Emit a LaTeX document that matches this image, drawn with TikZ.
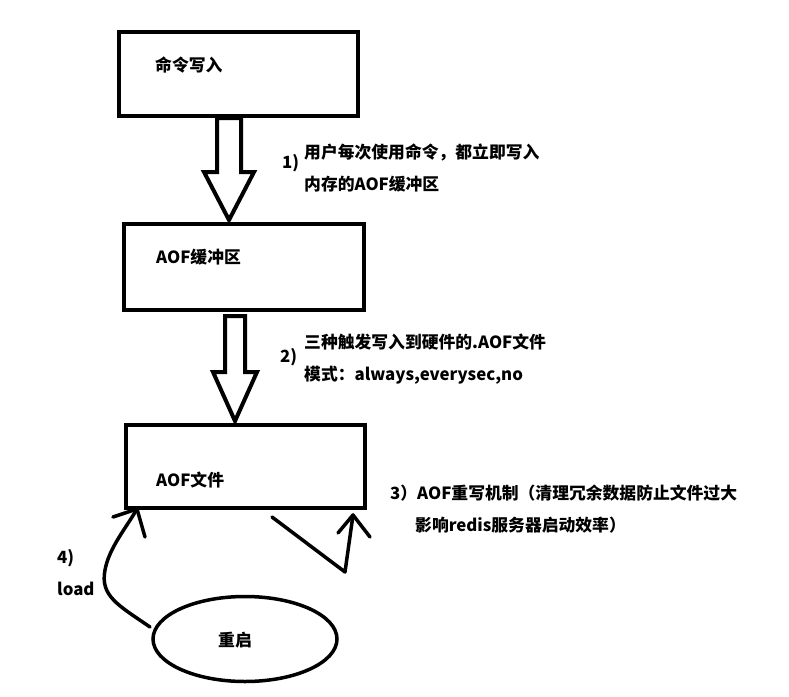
\documentclass[tikz,border=0pt]{standalone}
\usepackage{fontspec}
\setmainfont{Noto Sans CJK SC}
\usetikzlibrary{shapes.geometric}
\begin{document}
\begin{tikzpicture}[x=1pt,y=-1pt,
  box/.style={draw,line width=4pt,minimum width=#1,inner sep=0pt},
  txt/.style={font=\fontsize{16.8}{20}\selectfont\bfseries,inner sep=0pt,anchor=west},
  lbl/.style={font=\fontsize{16.8}{32}\selectfont\bfseries,inner sep=0pt,anchor=north west,align=left},
  blk/.style={draw,line width=4pt,line join=miter},
  hand/.style={draw,line width=3.5pt,line cap=round,line join=round}]
\useasboundingbox[fill=white] (0,0) rectangle (789,696);
% boxes
\node[box=239pt,minimum height=84pt] (b1) at (238.5,74) {};
\node[box=240pt,minimum height=86pt] (b2) at (244,267) {};
\node[box=239pt,minimum height=83pt] (b3) at (245.5,466.5) {};
\node[txt] (t1) at (155,65) {命令写入};
\node[txt] (t2) at (156,257) {AOF缓冲区};
\node[txt] (t3) at (156,480) {AOF文件};
% block arrows
\draw[blk] (217,118) -- (241,118) -- (241,172) -- (254,172) -- (229,220) -- (204,172) -- (217,172) -- cycle;
\draw[blk] (225,316) -- (245,316) -- (245,372) -- (257,372) -- (235,421) -- (213,372) -- (225,372) -- cycle;
% labels
\node[txt] (n1) at (282,163) {1)};
\node[lbl] (l1) at (304,144) {用户每次使用命令，都立即写入\\内存的AOF缓冲区};
\node[txt] (n2) at (280,357) {2)};
\node[lbl] (l2) at (304,334) {三种触发写入到硬件的.AOF文件\\模式：always,everysec,no};
\node[lbl] (l3) at (390,485) {3）AOF重写机制（清理冗余数据防止文件过大\\\hspace*{25pt}影响redis服务器启动效率）};
\node[lbl] (l4) at (57,549) {4)\\load};
% restart ellipse
\node[draw,ellipse,line width=3.5pt,minimum width=184pt,minimum height=85pt,inner sep=0pt] (r) at (245,639) {};
\node[txt,anchor=center] (rt) at (235,640) {重启};
% load arrow
\coordinate (lt) at (137,509);
\draw[hand] (150,627) .. controls (118,605) and (100,596) .. (105,570) .. controls (109,548) and (126,528) .. (lt);
\draw[hand] (113,517) -- (lt) -- (145,537);
% rewrite arrow
\coordinate (rs) at (272,517);
\coordinate (rb) at (345,572);
\coordinate (rtip) at (353,515);
\draw[hand] (rs) -- (rb) -- (rtip);
\draw[hand] (338,533) -- (rtip) -- (370,537);
\end{tikzpicture}
\end{document}
